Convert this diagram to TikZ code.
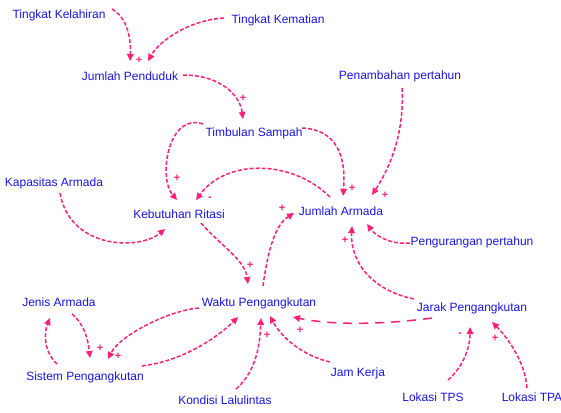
\documentclass[tikz,border=0pt]{standalone}
\usepackage{fontspec}
\setmainfont{Liberation Sans}
\usetikzlibrary{arrows.meta}
\definecolor{linkpink}{RGB}{255,30,120}
\definecolor{labelblue}{RGB}{25,20,235}
\begin{document}
\begin{tikzpicture}[x=1pt,y=-1pt,
 var/.style={text=labelblue,font=\fontsize{12}{14}\selectfont,inner sep=1pt},
 link/.style={draw=linkpink,line width=1.5pt,dash pattern=on 4pt off 2pt,-{Triangle[length=7pt,width=6.5pt]}},
 longlink/.style={link,dash pattern=on 9pt off 7pt},
 pol/.style={text=linkpink,font=\fontsize{11}{11}\selectfont\bfseries,inner sep=0pt}]
\useasboundingbox[fill=white] (0,0) rectangle (561,412);
% variables
\node[var] (kel)  at (59,15)  {Tingkat Kelahiran};
\node[var] (kem)  at (278,20) {Tingkat Kematian};
\node[var] (jp)   at (130,76) {Jumlah Penduduk};
\node[var] (ts)   at (254,133) {Timbulan Sampah};
\node[var] (pen)  at (400,76) {Penambahan pertahun};
\node[var] (kap)  at (54,183) {Kapasitas Armada};
\node[var] (kr)   at (179,214) {Kebutuhan Ritasi};
\node[var] (ja)   at (341,211) {Jumlah Armada};
\node[var] (peng) at (472,242) {Pengurangan pertahun};
\node[var] (wp)   at (259,303) {Waktu Pengangkutan};
\node[var] (jen)  at (59,302) {Jenis Armada};
\node[var] (sp)   at (85,377) {Sistem Pengangkutan};
\node[var] (jar)  at (472,308) {Jarak Pengangkutan};
\node[var] (jk)   at (358,373) {Jam Kerja};
\node[var] (kl)   at (225,400) {Kondisi Lalulintas};
\node[var] (tps)  at (433,397) {Lokasi TPS};
\node[var] (tpa)  at (532,397) {Lokasi TPA};
% links
\draw[link] ([shift={(53,-6)}]kel.center) .. controls (128,18) and (131,40) .. ([shift={(0,-15)}]jp.center);
\draw[link] ([shift={(-54,-2)}]kem.center) .. controls (190,20) and (160,40) .. ([shift={(18,-15)}]jp.center);
\draw[link] ([shift={(53,-1)}]jp.center) .. controls (220,75) and (240,95) .. ([shift={(-11,-14)}]ts.center);
\draw[link] ([shift={(-51,-9)}]ts.center) .. controls (168,112) and (158,178) .. ([shift={(-2,-14)}]kr.center);
\draw[link] ([shift={(48,-5)}]ts.center) .. controls (345,130) and (345,170) .. ([shift={(2,-15)}]ja.center);
\draw[link] ([shift={(-11,-14)}]ja.center) .. controls (290,158) and (225,160) .. ([shift={(17,-14)}]kr.center);
\draw[link] ([shift={(2,12)}]pen.center) .. controls (405,140) and (385,175) .. ([shift={(31,-16)}]ja.center);
\draw[link] ([shift={(-62,1)}]peng.center) .. controls (390,245) and (375,235) .. ([shift={(26,13)}]ja.center);
\draw[link] ([shift={(6,10)}]kap.center) .. controls (70,250) and (140,250) .. ([shift={(-14,15)}]kr.center);
\draw[link] ([shift={(22,9)}]kr.center) .. controls (220,245) and (245,260) .. ([shift={(-11,-19)}]wp.center);
\draw[link] ([shift={(4,-17)}]wp.center) .. controls (268,250) and (275,225) .. ([shift={(-47,2)}]ja.center);
\draw[link] ([shift={(-58,-9)}]jar.center) .. controls (370,290) and (350,260) .. ([shift={(11,15)}]ja.center);
\draw[longlink] ([shift={(-40,10)}]jar.center) .. controls (380,325) and (330,325) .. ([shift={(34,14)}]wp.center);
\draw[link] ([shift={(-28,-11)}]jk.center) .. controls (300,355) and (280,335) .. ([shift={(11,13)}]wp.center);
\draw[link] ([shift={(11,-11)}]kl.center) .. controls (258,370) and (260,340) .. ([shift={(2,15)}]wp.center);
\draw[link] ([shift={(-60,5)}]wp.center) .. controls (170,310) and (120,335) .. ([shift={(23,-18)}]sp.center);
\draw[link] ([shift={(57,-11)}]sp.center) .. controls (190,360) and (225,330) .. ([shift={(-21,14)}]wp.center);
\draw[link] ([shift={(13,12)}]jen.center) .. controls (85,325) and (88,340) .. ([shift={(5,-19)}]sp.center);
\draw[link] ([shift={(-28,-13)}]sp.center) .. controls (42,350) and (45,330) .. ([shift={(-9,16)}]jen.center);
\draw[link] ([shift={(15,-17)}]tps.center) .. controls (465,365) and (470,345) .. ([shift={(-2,19)}]jar.center);
\draw[link] ([shift={(-5,-9)}]tpa.center) .. controls (525,360) and (505,335) .. ([shift={(20,14)}]jar.center);
% polarities
\node[pol] (p1)  at (139,60) {+};
\node[pol] (p2)  at (243,98) {+};
\node[pol] (p3)  at (177,178) {+};
\node[pol] (p4)  at (210,199) {-};
\node[pol] (p5)  at (352,188) {+};
\node[pol] (p6)  at (385,195) {+};
\node[pol] (p7)  at (282,208) {+};
\node[pol] (p8)  at (345,240) {+};
\node[pol] (p9)  at (250,265) {+};
\node[pol] (p10) at (300,330) {+};
\node[pol] (p11) at (267,335) {+};
\node[pol] (p12) at (100,348) {+};
\node[pol] (p13) at (118,356) {+};
\node[pol] (p14) at (460,335) {-};
\node[pol] (p15) at (495,338) {+};
\end{tikzpicture}
\end{document}
